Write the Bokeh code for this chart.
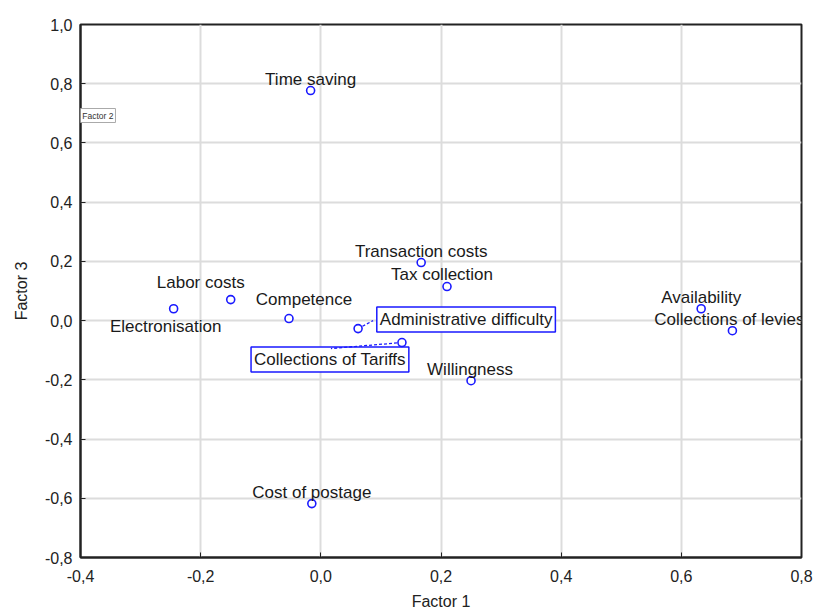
from bokeh.plotting import figure
from bokeh.models import ColumnDataSource, FixedTicker, Range1d, Label
from bokeh.core.properties import value
from bokeh.embed import file_html
from bokeh.resources import INLINE

# ---- data ----
variables = ["Time saving", "Transaction costs", "Tax collection", "Labor costs",
             "Electronisation", "Competence", "Administrative difficulty",
             "Collections of Tariffs", "Willingness", "Availability",
             "Collections of levies", "Cost of postage"]
factor1 = [-0.017, 0.167, 0.210, -0.150, -0.245, -0.053, 0.062, 0.135, 0.250, 0.633, 0.685, -0.015]
factor3 = [0.777, 0.196, 0.115, 0.071, 0.040, 0.007, -0.027, -0.074, -0.203, 0.040, -0.034, -0.618]
boxed = ["Administrative difficulty", "Collections of Tariffs"]

x_ticks = [-0.4, -0.2, 0.0, 0.2, 0.4, 0.6, 0.8]
x_tick_labels = ["-0,4", "-0,2", "0,0", "0,2", "0,4", "0,6", "0,8"]
y_ticks = [-0.8, -0.6, -0.4, -0.2, 0.0, 0.2, 0.4, 0.6, 0.8, 1.0]
y_tick_labels = ["-0,8", "-0,6", "-0,4", "-0,2", "0,0", "0,2", "0,4", "0,6", "0,8", "1,0"]

# ---- layout / style (pixel offsets of labels from their points) ----
label_offsets = {
    "Time saving": (0, -11), "Transaction costs": (0, -11), "Tax collection": (-5, -12),
    "Labor costs": (-30, -17), "Electronisation": (-8, 18), "Competence": (15, -19),
    "Administrative difficulty": (108, -9), "Collections of Tariffs": (-72, 17),
    "Willingness": (-1, -11), "Availability": (0, -11), "Collections of levies": (-3, -11),
    "Cost of postage": (0, -11),
}
leader_offsets = {"Administrative difficulty": (15, -8), "Collections of Tariffs": (-71, 6)}

W, H = 816, 612
BL, BR, BT, BB = 80, 15, 24, 55
XR = (-0.4, 0.8)
YR = (-0.8, 1.0)
fw, fh = W - BL - BR, H - BT - BB
sx = (XR[1] - XR[0]) / fw
sy = (YR[1] - YR[0]) / fh

FONT = "Liberation Sans"
BLUE = "#1a1aff"

p = figure(width=W, height=H, output_backend="svg", toolbar_location=None,
           x_range=Range1d(*XR), y_range=Range1d(*YR),
           min_border_left=BL, min_border_right=BR, min_border_top=BT, min_border_bottom=BB)
p.background_fill_color = "white"
p.border_fill_color = "white"
p.outline_line_color = "#222222"
p.outline_line_width = 2

for ax, ticks, labels in ((p.xaxis[0], x_ticks, x_tick_labels), (p.yaxis[0], y_ticks, y_tick_labels)):
    ax.ticker = FixedTicker(ticks=ticks)
    ax.major_label_overrides = {t: l for t, l in zip(ticks, labels)}
    ax.minor_tick_line_color = None
    ax.major_tick_in = 5
    ax.major_tick_out = 0
    ax.major_tick_line_color = "#222222"
    ax.axis_line_color = "#222222"
    ax.axis_line_width = 2
    ax.major_label_text_font = FONT
    ax.major_label_text_font_size = "16px"
    ax.major_label_text_color = "#222222"
    ax.axis_label_text_font = FONT
    ax.axis_label_text_font_size = "16px"
    ax.axis_label_text_font_style = "normal"
    ax.axis_label_text_color = "#222222"

p.xaxis.axis_label = "Factor 1"
p.yaxis.axis_label = "Factor 3"
p.xaxis.major_label_standoff = 12
p.xaxis.axis_label_standoff = 8
p.yaxis.major_label_standoff = 8
p.yaxis.axis_label_standoff = 12

p.xgrid.ticker = FixedTicker(ticks=x_ticks)
p.ygrid.ticker = FixedTicker(ticks=y_ticks)
p.grid.grid_line_color = "#dcdcdc"
p.grid.grid_line_width = 2

# boxed labels
src_box = ColumnDataSource(dict(
    x=[factor1[variables.index(v)] for v in boxed],
    y=[factor3[variables.index(v)] for v in boxed],
    t=boxed,
    xo=[label_offsets[v][0] for v in boxed],
    yo=[label_offsets[v][1] for v in boxed],
))
p.text(x="x", y="y", text="t", x_offset="xo", y_offset="yo", source=src_box,
       text_font=value(FONT), text_font_size="17px", text_color="#1a1a1a",
       text_align="center", text_baseline="middle",
       background_fill_color="white", border_line_color=BLUE, border_line_width=1.5,
       padding=3)

# leader lines
lx0, ly0, lx1, ly1 = [], [], [], []
for name, (dx, dy) in leader_offsets.items():
    i = variables.index(name)
    lx0.append(factor1[i]); ly0.append(factor3[i])
    lx1.append(factor1[i] + dx * sx); ly1.append(factor3[i] - dy * sy)
p.segment(lx0, ly0, lx1, ly1, line_color=BLUE, line_dash="3 2", line_width=1.3)

# points
p.scatter(factor1, factor3, marker="circle", size=8, line_color=BLUE, line_width=1.6,
          fill_color="white")

# plain labels
plain = [v for v in variables if v not in boxed]
src_plain = ColumnDataSource(dict(
    x=[factor1[variables.index(v)] for v in plain],
    y=[factor3[variables.index(v)] for v in plain],
    t=plain,
    xo=[label_offsets[v][0] for v in plain],
    yo=[label_offsets[v][1] for v in plain],
))
p.text(x="x", y="y", text="t", x_offset="xo", y_offset="yo", source=src_plain,
       text_font=value(FONT), text_font_size="17px", text_color="#1a1a1a",
       text_align="center", text_baseline="middle")

# leftover window caption visible in the reference (screen units relative to the frame)
cap = Label(x=-72, y=435, x_units="screen", y_units="screen", level="overlay",
            text="dings, Factor 1 vs. Factor 2", text_font=FONT, text_font_size="8.5px",
            text_color="#333333", background_fill_color="white",
            border_line_color="#aaaaaa", border_line_width=1, padding=2)
p.add_layout(cap)

open("out.html", "w").write(file_html(p, INLINE))
